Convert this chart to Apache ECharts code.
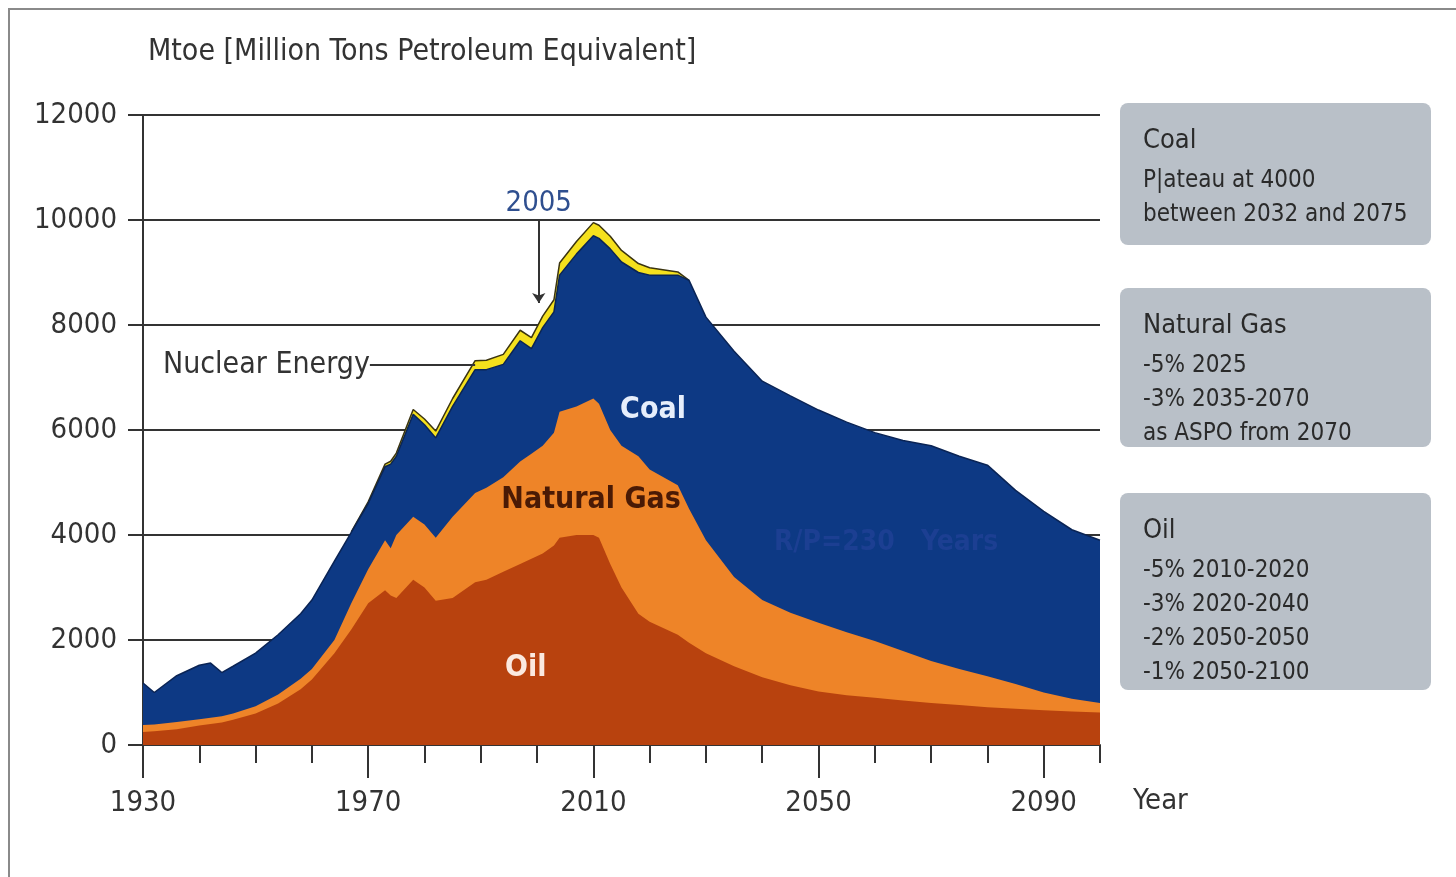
<!DOCTYPE html>
<html>
<head>
<meta charset="utf-8">
<title>World energy supply scenario</title>
<script src="https://cdn.jsdelivr.net/npm/echarts@6/dist/echarts.min.js"></script>
<style>
  html, body { margin: 0; padding: 0; background: #fff; }
  #main { width: 1456px; height: 877px; }
</style>
</head>
<body>
<div id="main"></div>
<script>
// years shared by every series (denser where the history is jagged)
var years = [1930,1932,1936,1940,1942,1944,1946,1950,1954,1958,1960,1964,1967,1970,1973,1974,1975,1978,1980,1982,
             1985,1989,1991,1994,1997,1999,2001,2003,2004,2007,2010,2011,2013,2015,2018,2020,2025,2027,2030,2035,
             2040,2045,2050,2055,2060,2065,2070,2075,2080,2085,2090,2095,2100];

// Mtoe per source, stacked from the bottom: oil, natural gas, coal, nuclear
var oil = [250,260,300,370,400,430,480,600,790,1060,1250,1750,2200,2700,2950,2850,2800,3150,3000,2750,
           2800,3100,3150,3300,3450,3550,3650,3800,3950,4000,4000,3950,3450,3000,2500,2350,2100,1950,1750,1500,
           1290,1140,1020,950,900,850,800,760,720,690,660,640,620];
var gas = [130,130,140,120,120,120,120,140,170,200,200,250,500,650,950,900,1200,1200,1200,1200,
           1550,1700,1750,1800,1950,2000,2050,2150,2400,2450,2600,2550,2550,2700,3000,2900,2850,2550,2150,1700,
           1470,1380,1310,1200,1080,940,800,690,590,470,340,240,180];
var coal = [800,610,880,1030,1040,830,900,1010,1140,1240,1310,1500,1350,1250,1400,1600,1500,1950,1900,1900,
            2100,2350,2250,2150,2300,2000,2250,2300,2600,2900,3100,3150,3450,3500,3500,3700,4000,4350,4250,4300,
            4170,4130,4050,4000,3970,4010,4100,4050,4020,3690,3450,3220,3100];
var nuclear = [null,null,null,null,null,null,null,null,null,null,null,null,10,30,50,55,60,90,110,130,
               150,170,180,190,200,210,220,230,230,240,250,250,240,220,170,140,60,0,null,null,
               null,null,null,null,null,null,null,null,null,null,null,null,null];

var yearLabels = [1930, 1970, 2010, 2050, 2090];

var boxNotes = [
  { title: 'Coal', lines: ['P|ateau at 4000', 'between 2032 and 2075'], top: 103, height: 142 },
  { title: 'Natural Gas', lines: ['-5% 2025', '-3% 2035-2070', 'as ASPO from 2070'], top: 288, height: 159 },
  { title: 'Oil', lines: ['-5% 2010-2020', '-3% 2020-2040', '-2% 2050-2050', '-1% 2050-2100'], top: 493, height: 197 }
];

var FONT = '"Liberation Sans Narrow", "DejaVu Sans Condensed", "Arial Narrow", sans-serif';

// running totals so each layer sits on the one below it
var layers = [oil, gas, coal, nuclear];
var tops = [];
var running = years.map(function () { return 0; });
layers.forEach(function (vals) {
  var top = [];
  for (var i = 0; i < years.length; i++) {
    if (vals[i] == null) { top.push([years[i], null]); continue; }
    running[i] += vals[i];
    top.push([years[i], running[i]]);
  }
  tops.push(top);
});

var myChart = echarts.init(document.getElementById('main'));

var graphics = [
  { type: 'line', shape: { x1: 8, y1: 9, x2: 1456, y2: 9 }, style: { stroke: '#8a8a8a', lineWidth: 2 } },
  { type: 'line', shape: { x1: 9, y1: 9, x2: 9, y2: 877 }, style: { stroke: '#8a8a8a', lineWidth: 2 } },
  { type: 'text', left: 1133, top: 787, style: { text: 'Year', font: '29px ' + FONT, fill: '#333' } }
];
boxNotes.forEach(function (b) {
  graphics.push({
    type: 'rect', shape: { x: 1120, y: b.top, width: 311, height: b.height, r: 8 },
    style: { fill: '#b9c0c8' }
  });
  graphics.push({
    type: 'text', left: 1143, top: b.top + 24,
    style: { text: b.title, font: '27px ' + FONT, fill: '#2a2a2a' }
  });
  graphics.push({
    type: 'text', left: 1143, top: b.top + 61,
    style: { text: b.lines.join('\n'), font: '24px ' + FONT, fill: '#2a2a2a', lineHeight: 34 }
  });
});

function areaSeries(name, data, color, line) {
  return {
    name: name, type: 'line', data: data,
    showSymbol: false, connectNulls: false,
    lineStyle: line || { width: 0 },
    itemStyle: { color: color },
    areaStyle: { color: color, opacity: 1 }
  };
}

var nuclearS = areaSeries('Nuclear Energy', tops[3], '#f5e11d', { width: 1.5, color: '#3b3410' });
nuclearS.z = 2;
var coalS = areaSeries('Coal', tops[2], '#0d3984', { width: 1.5, color: '#0a2455' });
coalS.z = 3;
coalS.markPoint = {
  symbol: 'circle', symbolSize: 0,
  data: [
    { name: 'Coal', coord: [2020.6, 6380],
      label: { show: true, position: 'inside', formatter: '{b}', fontFamily: FONT, fontSize: 30, fontWeight: 'bold', color: '#e6eefb' } },
    { name: 'R/P=230   Years', coord: [2062, 3850],
      label: { show: true, position: 'inside', formatter: '{b}', fontFamily: FONT, fontSize: 28, fontWeight: 'bold', color: '#1c3f92' } }
  ]
};
coalS.markLine = {
  silent: true, symbol: ['none', 'none'],
  lineStyle: { color: '#333', width: 2, type: 'solid' },
  data: [
    [
      { coord: [1970.3, 7240], label: { show: true, position: 'start', formatter: 'Nuclear Energy', distance: 0, fontFamily: FONT, fontSize: 30, color: '#333' } },
      { coord: [1989, 7240] }
    ],
    [
      { coord: [2000.3, 10000], symbol: 'none', label: { show: true, position: 'start', formatter: '2005', distance: 2, fontFamily: FONT, fontSize: 29, color: '#2f4f8f' } },
      { coord: [2000.3, 8420], symbol: 'arrow', symbolSize: 10 }
    ]
  ]
};
var gasS = areaSeries('Natural Gas', tops[1], '#ee8428');
gasS.z = 4;
gasS.markPoint = {
  symbol: 'circle', symbolSize: 0,
  label: { show: true, position: 'inside', formatter: '{b}', fontFamily: FONT, fontSize: 30, fontWeight: 'bold', color: '#4a1a05' },
  data: [{ name: 'Natural Gas', coord: [2009.6, 4670] }]
};
var oilS = areaSeries('Oil', tops[0], '#b8420e');
oilS.z = 5;
oilS.markPoint = {
  symbol: 'circle', symbolSize: 0,
  label: { show: true, position: 'inside', formatter: '{b}', fontFamily: FONT, fontSize: 30, fontWeight: 'bold', color: '#fbe9df' },
  data: [{ name: 'Oil', coord: [1998, 1470] }]
};

var option = {
  animation: false,
  backgroundColor: '#fff',
  title: {
    text: 'Mtoe [Million Tons Petroleum Equivalent]',
    left: 143, top: 32,
    textStyle: { fontFamily: FONT, fontSize: 30, fontWeight: 'normal', color: '#333' }
  },
  grid: { left: 143, right: 356, top: 115, bottom: 132 },
  xAxis: [
    {
      type: 'value', min: 1930, max: 2100, interval: 10,
      axisLine: { show: true, lineStyle: { color: '#333', width: 2 } },
      axisTick: { show: true, length: 18, lineStyle: { color: '#333', width: 2 } },
      axisLabel: { show: false },
      splitLine: { show: false }
    },
    {
      type: 'value', min: 1930, max: 2100, position: 'bottom',
      axisLine: { show: false },
      axisTick: { show: true, length: 33, customValues: yearLabels, lineStyle: { color: '#333', width: 2 } },
      axisLabel: {
        show: true, customValues: yearLabels, margin: 44,
        formatter: function (v) { return String(v); },
        fontFamily: FONT, fontSize: 29, color: '#333'
      },
      splitLine: { show: false }
    }
  ],
  yAxis: {
    type: 'value', min: 0, max: 12000, interval: 2000,
    axisLine: { show: true, lineStyle: { color: '#333', width: 2 } },
    axisTick: { show: true, length: 15, lineStyle: { color: '#333', width: 2 } },
    axisLabel: { margin: 26, formatter: function (v) { return String(v); }, fontFamily: FONT, fontSize: 29, color: '#333' },
    splitLine: { show: true, lineStyle: { color: '#333', width: 2 } }
  },
  graphic: graphics,
  series: [nuclearS, coalS, gasS, oilS]
};

myChart.setOption(option);
</script>
</body>
</html>
